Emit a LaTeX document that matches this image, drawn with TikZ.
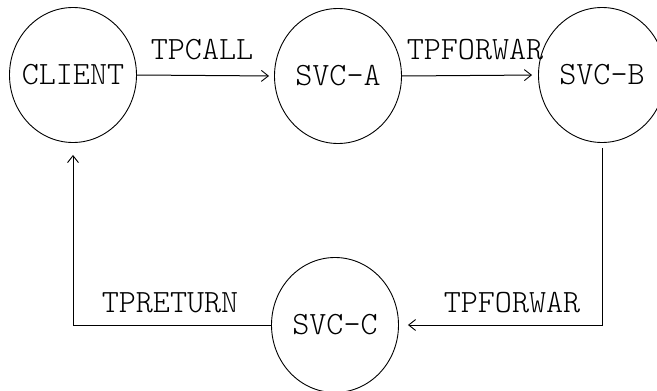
\documentclass[tikz,border=0pt]{standalone}
\usetikzlibrary{shapes.geometric,arrows.meta}
\begin{document}
\begin{tikzpicture}[x=1pt,y=-1pt,
  svc/.style={draw,ellipse,line width=0.9pt,minimum width=127pt,minimum height=135pt,inner sep=-10pt},
  lbl/.style={inner sep=0pt},
  conn/.style={draw,line width=1pt,-{Straight Barb[length=7pt,width=11pt,line width=0.9pt]}},
  every node/.style={font=\ttfamily\fontseries{l}\fontsize{32.5}{38}\selectfont}]
\useasboundingbox (0,0) rectangle (657,391);
\node[svc] (client) at (73,75) {CLIENT};
\node[svc] (svca) at (338,76) {SVC-A};
\node[svc] (svcb) at (602,75) {SVC-B};
\node[svc] (svcc) at (335,325) {SVC-C};
\node[lbl] (l1) at (202,50) {TPCALL};
\node[lbl] (l2) at (475,50) {TPFORWAR};
\node[lbl] (l3) at (512,303) {TPFORWAR};
\node[lbl] (l4) at (170,303) {TPRETURN};
\draw[conn,shorten >=5pt] (client.east) -- (svca.west);
\draw[conn,shorten >=6pt] (svca.east) -- (svcb.west);
\draw[conn,shorten <=5pt,shorten >=9pt] (svcb.south) |- (svcc.east);
\draw[conn,shorten >=12pt] (svcc.west) -| (client.south);
\end{tikzpicture}
\end{document}
